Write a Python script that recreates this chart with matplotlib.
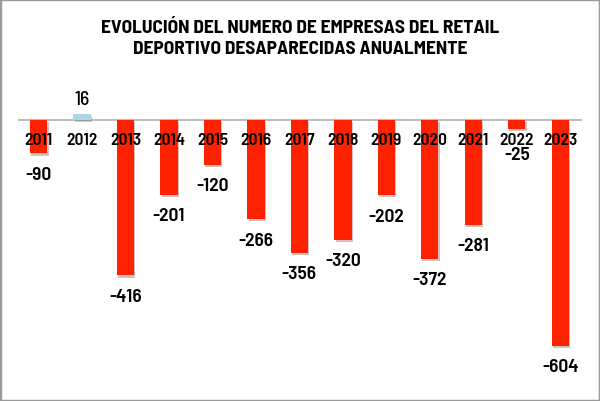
import matplotlib
matplotlib.use('Agg')
import matplotlib.pyplot as plt
import matplotlib.patheffects as pe
from matplotlib.patches import Rectangle
from matplotlib import font_manager as fm

years = ['2011', '2012', '2013', '2014', '2015', '2016', '2017',
         '2018', '2019', '2020', '2021', '2022', '2023']
values = [-90, 16, -416, -201, -120, -266, -356, -320, -202, -372, -281, -25, -604]

red = '#ff2200'
blue = '#a8d6e2'

# condensed face if there is one, else DejaVu with smaller sizes
try:
    fm.findfont('Barlow Semi Condensed', fallback_to_default=False)
    font = ['Barlow Semi Condensed', 'DejaVu Sans']
    scale = 1.0
except ValueError:
    font = ['DejaVu Sans']
    scale = 0.8

fig = plt.figure(figsize=(6, 4.02), dpi=100)
fig.patches.append(Rectangle((0, 0), 1, 1, transform=fig.transFigure,
                             fill=False, edgecolor='#9a9a9a', linewidth=2.5))
ax = fig.add_axes([0.03, 0.02, 0.94, 0.78])

colors = [blue if v > 0 else red for v in values]
x = list(range(len(years)))
bars = ax.bar(x, values, width=0.4, color=colors, zorder=3)
for b in bars:
    b.set_path_effects([pe.SimplePatchShadow(offset=(1, -1.5), alpha=0.25),
                        pe.Normal()])

ax.axhline(0, color='#b0b0b0', linewidth=1.2, zorder=2)
ax.set_xlim(-0.47, 12.5)
ax.set_ylim(-730, 108)
ax.axis('off')

# year labels just under the zero line
for xi, yr in zip(x, years):
    ax.annotate(yr, (xi, 0), xytext=(0, -14), textcoords='offset points',
                ha='center', va='center', fontsize=12.5 * scale,
                fontweight='semibold', family=font, zorder=4)

# value labels
for xi, v in zip(x, values):
    if v > 0:
        ax.annotate(str(v), (xi, v), xytext=(0, 11), textcoords='offset points',
                    ha='center', va='center', fontsize=14 * scale,
                    fontweight='medium', family=font)
    else:
        ax.annotate(str(v), (xi, min(v, -37)), xytext=(0, -15),
                    textcoords='offset points', ha='center', va='center',
                    fontsize=14 * scale, fontweight='semibold', family=font)

fig.text(0.5, 0.903, 'EVOLUCIÓN DEL NUMERO DE EMPRESAS DEL RETAIL\nDEPORTIVO DESAPARECIDAS ANUALMENTE',
         ha='center', va='center', fontsize=14 * scale, fontweight='bold',
         family=font, linespacing=1.25)

fig.savefig('out.png', dpi=100)
